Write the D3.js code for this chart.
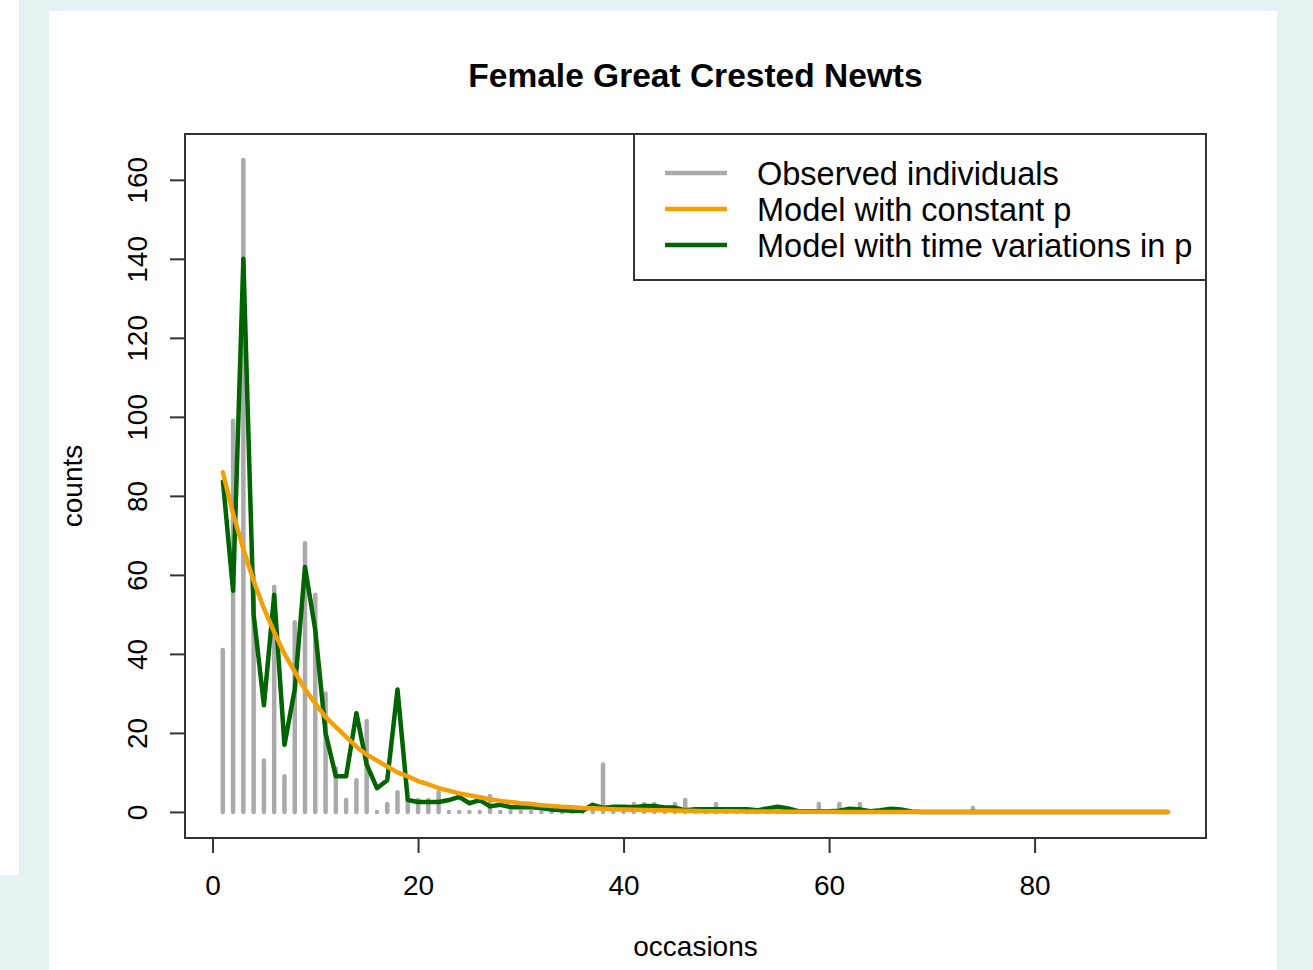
<!DOCTYPE html>
<html>
<head>
<meta charset="utf-8">
<script src="https://cdn.jsdelivr.net/npm/d3@7"></script>
<style>
  body { margin: 0; background: #e6f1f4; }
  svg { display: block; font-family: "Liberation Sans", Arial, sans-serif; }
</style>
</head>
<body>
<div id="chart"></div>
<script>
// Chart data
var occasions = d3.range(1, 94);

var observed = [41, 99, 165, 60, 13, 57, 9, 48, 68, 55,
  30, 11, 3, 8, 23, 0, 2, 5, 3, 3,
  3, 5, 0, 0, 0, 0, 4, 0, 0, 0,
  0, 0, 0, 0, 0, 0, 1, 12, 0, 0,
  2, 2, 2, 0, 2, 3, 0, 0, 2, 0,
  0, 0, 0, 0, 0, 0, 0, 0, 2, 0,
  2, 0, 2, 0, 0, 0, 0, 0, 0, 0,
  0, 0, 0, 1, 0, 0, 0, 0, 0, 0,
  0, 0, 0, 0, 0, 0, 0, 0, 0, 0,
  0, 0, 0];

var constantP = [86, 75.5, 66.5, 58.5, 51.5, 45.5, 40, 35.5, 31, 27.5,
  24, 21.5, 19, 16.5, 14.5, 13, 11.5, 10, 9, 7.8,
  7, 6, 5.4, 4.7, 4.2, 3.7, 3.2, 2.8, 2.5, 2.2,
  2, 1.7, 1.5, 1.3, 1.2, 1, 0.9, 0.8, 0.7, 0.6,
  0.55, 0.5, 0.45, 0.4, 0.35, 0.3, 0.25, 0.2, 0.2, 0.15,
  0.15, 0.1, 0.1, 0.1, 0.1, 0.05, 0.05, 0.05, 0.05, 0.05,
  0, 0, 0, 0, 0, 0, 0, 0, 0, 0,
  0, 0, 0, 0, 0, 0, 0, 0, 0, 0,
  0, 0, 0, 0, 0, 0, 0, 0, 0, 0,
  0, 0, 0];

var timeP = [84, 56, 140, 50, 27, 55, 17, 31, 62, 46,
  20, 9, 9, 25, 12, 6, 8, 31, 3, 2.5,
  2.5, 2.5, 3, 3.8, 2.2, 3, 1.4, 1.8, 1.2, 1.2,
  1.2, 1, 0.6, 0.4, 0.3, 0.3, 1.8, 1, 1.3, 1.3,
  1.2, 1.5, 1.5, 1.1, 1.1, 0.4, 0.7, 0.7, 0.7, 0.7,
  0.7, 0.7, 0.4, 0.9, 1.3, 0.9, 0.2, 0.2, 0.2, 0.2,
  0.3, 0.8, 0.6, 0.2, 0.4, 0.8, 0.6, 0.1, 0, 0,
  0, 0, 0, 0, 0, 0, 0, 0, 0, 0,
  0, 0, 0, 0, 0, 0, 0, 0, 0, 0,
  0, 0, 0];

var xTicks = [0, 20, 40, 60, 80];
var yTicks = [0, 20, 40, 60, 80, 100, 120, 140, 160];
var legendLabels = ["Observed individuals", "Model with constant p", "Model with time variations in p"];
var legendColors = ["#aaaaaa", "#f2a005", "#006400"];

var svgWidth = 1313;
var svgHeight = 970;
var plot = { left: 185, right: 1206, top: 134, bottom: 838 };

var svg = d3.select("#chart").append("svg")
  .attr("width", svgWidth)
  .attr("height", svgHeight);

// page background pieces
svg.append("rect").attr("x", 0).attr("y", 0).attr("width", svgWidth).attr("height", svgHeight).attr("fill", "#e6f1f4");
svg.append("rect").attr("x", 0).attr("y", 0).attr("width", 19).attr("height", 875).attr("fill", "#ffffff");
svg.append("rect").attr("x", 49).attr("y", 11).attr("width", 1228).attr("height", 959).attr("fill", "#ffffff");

// scales, R style 4% padding
var xScale = d3.scaleLinear().domain([-2.68, 96.68]).range([plot.left, plot.right]);
var yScale = d3.scaleLinear().domain([-6.6, 171.6]).range([plot.bottom, plot.top]);

// observed bars (type = "h")
svg.append("g").selectAll("line").data(occasions)
  .enter()
  .append("line")
  .attr("x1", d => xScale(d))
  .attr("x2", d => xScale(d))
  .attr("y1", yScale(0))
  .attr("y2", (d, i) => yScale(observed[i]))
  .attr("stroke", legendColors[0])
  .attr("stroke-width", 4.5)
  .attr("stroke-linecap", "round");

var line = d3.line()
  .x(d => xScale(d[0]))
  .y(d => yScale(d[1]));

// time varying model
svg.append("path")
  .datum(occasions.map((d, i) => [d, timeP[i]]))
  .attr("d", line)
  .attr("fill", "none")
  .attr("stroke", legendColors[2])
  .attr("stroke-width", 4.5)
  .attr("stroke-linejoin", "round");

// constant p model
svg.append("path")
  .datum(occasions.map((d, i) => [d, constantP[i]]))
  .attr("d", line)
  .attr("fill", "none")
  .attr("stroke", legendColors[1])
  .attr("stroke-width", 4.5)
  .attr("stroke-linejoin", "round")
  .attr("stroke-linecap", "round");

// x axis
var xAxis = d3.axisBottom(xScale).tickValues(xTicks).tickSize(15).tickPadding(10).tickFormat(d3.format("d"));
var gx = svg.append("g")
  .attr("transform", `translate(0, ${plot.bottom})`)
  .call(xAxis);
gx.select(".domain").attr("d", `M${xScale(0)},0H${xScale(80)}`).attr("stroke", "#333").attr("stroke-width", 2);
gx.selectAll(".tick line").attr("stroke", "#333").attr("stroke-width", 2);
gx.selectAll(".tick text")
  .attr("y", 47)
  .attr("dy", "0.35em")
  .style("font-size", "28px")
  .style("font-family", "Liberation Sans, Arial, sans-serif")
  .attr("fill", "#000");

// y axis
var yAxis = d3.axisLeft(yScale).tickValues(yTicks).tickSize(15).tickFormat(d3.format("d"));
var gy = svg.append("g")
  .attr("transform", `translate(${plot.left}, 0)`)
  .call(yAxis);
gy.select(".domain").attr("d", `M0,${yScale(0)}V${yScale(160)}`).attr("stroke", "#333").attr("stroke-width", 2);
gy.selectAll(".tick line").attr("stroke", "#333").attr("stroke-width", 2);
gy.selectAll(".tick text")
  .attr("x", null)
  .attr("dy", null)
  .attr("transform", "translate(-48, 0) rotate(-90)")
  .attr("text-anchor", "middle")
  .attr("dominant-baseline", "central")
  .style("font-size", "28px")
  .style("font-family", "Liberation Sans, Arial, sans-serif")
  .attr("fill", "#000");

// plot box
svg.append("rect")
  .attr("x", plot.left)
  .attr("y", plot.top)
  .attr("width", plot.right - plot.left)
  .attr("height", plot.bottom - plot.top)
  .attr("fill", "none")
  .attr("stroke", "#333")
  .attr("stroke-width", 2);

// title and axis labels
svg.append("text")
  .attr("x", (plot.left + plot.right) / 2)
  .attr("y", 75)
  .attr("text-anchor", "middle")
  .attr("dominant-baseline", "central")
  .style("font-size", "33.5px")
  .style("font-weight", "bold")
  .text("Female Great Crested Newts");

svg.append("text")
  .attr("x", (plot.left + plot.right) / 2)
  .attr("y", 946)
  .attr("text-anchor", "middle")
  .attr("dominant-baseline", "central")
  .style("font-size", "28px")
  .text("occasions");

svg.append("text")
  .attr("transform", `translate(72, ${(plot.top + plot.bottom) / 2}) rotate(-90)`)
  .attr("text-anchor", "middle")
  .attr("dominant-baseline", "central")
  .style("font-size", "28px")
  .text("counts");

// legend
var legend = svg.append("g");
legend.append("rect")
  .attr("x", 634)
  .attr("y", plot.top)
  .attr("width", plot.right - 634)
  .attr("height", 146)
  .attr("fill", "#fff")
  .attr("stroke", "#333")
  .attr("stroke-width", 2);

legendLabels.forEach(function(label, i) {
  var ly = 173 + i * 36;
  legend.append("line")
    .attr("x1", 665).attr("x2", 727)
    .attr("y1", ly).attr("y2", ly)
    .attr("stroke", legendColors[i])
    .attr("stroke-width", 4.5);
  legend.append("text")
    .attr("x", 757)
    .attr("y", ly + 1)
    .attr("dominant-baseline", "central")
    .style("font-size", "32.5px")
    .text(label);
});
</script>
</body>
</html>
